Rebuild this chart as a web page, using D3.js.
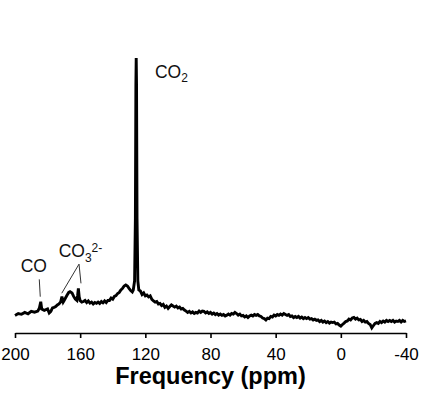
<!DOCTYPE html>
<html>
<head>
<meta charset="utf-8">
<script src="https://cdn.jsdelivr.net/npm/d3@7"></script>
<style>
  body { margin: 0; background: #fff; }
  svg { display: block; font-family: "Liberation Sans", Arial, sans-serif; }
</style>
</head>
<body>
<script>
// 13C NMR spectrum, chemical shift (ppm) and intensity (a.u., CO2 peak = 100)
var shift = [200,198,196,194,192,190,188,186,185,184.2,183.6,182,180,179,178,177,176,175,174,173,172,171.2,170.4,170,169,168,167,166.2,165,164,163,162,161.6,161.1,160.6,160,
  159,158,157,156,155,154,153,152,151,150,149,148,147,146,145,144,143,142,141,140,139,138,137,136,135,134,133,132,131,130,129,128,127.4,126.6,126.1,125.8,125.6,125.4,125.1,124.6,124,
  123,122,121,120,119,118,117,116,115,114,113,112,111,110,109,108,107,106,105,104,103,102,101,100,99,98,97,96,95,94,93,92,91,90,89,88,87,86,85,84,83,82,81,80,
  79,78,77,76,75,74,73,72,71,70,69,68,67,66,65,64,63,62,61,60,59,58,57,56,55,54,53,52,51,50,49,48,47,46,45,44,43,42,41,40,
  39,38,37,36,35,34,33,32,31,30,29,28,27,26,25,24,23,22,21,20,19,18,17,16,15,14,13,12,11,10,9,8,7,6,5,4,3,2,1,0,
  -1,-2,-3,-4,-5,-6,-7,-8,-9,-10,-11,-12,-13,-14,-15,-16,-17,-18,-19,-20,-21,-22,-23,-24,-25,-26,-27,-28,-29,-30,-31,-32,-33,-34,-35,-36,-37,-38,-39,-40];
var intensity = [3.6,4.3,4.0,4.7,4.2,5.1,4.8,5.2,6.4,8.7,6.0,5.5,6.0,4.5,5.1,6.4,6.6,6.9,7.5,7.9,8.6,10.6,8.6,9.0,10.1,11.2,12.2,12.5,12.0,10.7,9.7,9.2,10.9,13.7,10.5,9.1,
  8.6,8.8,9.2,8.4,9.0,8.2,8.6,7.9,8.4,8.1,8.6,8.1,8.8,8.3,9.0,8.4,9.2,9.2,10.1,9.7,10.7,11.0,11.8,12.2,13.1,13.7,14.6,15.0,14.6,13.7,12.9,12.4,13.1,16.5,40.0,90.0,100,90.0,40.0,16.5,13.1,
  12.7,11.4,12.0,10.9,11.2,10.5,10.9,9.6,9.0,8.6,8.8,7.9,8.1,7.3,7.7,6.6,7.1,6.2,6.9,7.5,7.1,6.7,7.1,6.4,6.7,6.0,6.2,5.6,5.2,4.7,5.1,4.5,4.9,4.3,4.7,4.5,5.2,4.7,5.2,5.1,4.5,4.9,4.3,4.7,
  4.1,4.5,3.9,4.3,3.7,4.1,3.6,3.9,3.4,3.7,4.1,3.7,4.3,4.1,4.7,4.3,3.7,4.1,3.4,3.6,3.0,3.4,2.8,3.4,3.7,3.4,3.9,3.6,3.9,3.4,3.2,2.6,2.4,1.9,2.6,2.4,3.2,3.0,3.7,3.4,
  3.9,3.6,4.1,3.7,4.3,3.9,3.6,3.9,3.2,3.4,2.8,3.2,2.8,3.2,2.6,3.0,2.4,2.8,2.4,2.8,2.2,2.4,1.9,2.2,1.7,1.9,1.3,1.7,1.1,1.5,0.9,1.3,0.7,1.1,0.9,1.1,0.4,0.6,0.0,-0.4,
  0.2,0.7,1.3,1.5,2.2,1.9,2.6,2.8,2.2,2.6,1.9,2.1,1.3,1.7,1.1,1.3,0.6,0.2,-1.1,-0.2,0.6,0.9,0.6,1.3,0.9,1.5,1.1,1.7,1.3,1.7,1.3,1.7,1.1,1.5,1.3,1.7,1.1,1.7,1.3,1.5];

var tickValues = [200, 160, 120, 80, 40, 0, -40];

// peak labels: text, ppm, intensity of baseline
var labelText = ["CO", "CO", "CO"];
var labelSub = ["", "3", "2"];
var labelSup = ["", "2-", ""];
var labelPpm = [196.5, 173.2, 114.1];
var labelInt = [19.7, 25.4, 92.6];

// leader lines: [ppm1, int1, ppm2, int2]
var leaders = [[185.1, 17.1, 184.5, 10.6], [160.7, 22.8, 171.3, 11.9], [160.7, 22.8, 159.5, 15.6]];

var width = 429, height = 401;
var svg = d3.select("body").append("svg").attr("width", width).attr("height", height);

var x = d3.scaleLinear().domain([200, -40]).range([15, 406]);
var y = d3.scaleLinear().domain([0, 100]).range([325, 58]);

var points = shift.map(function(d, i) { return [d, intensity[i]]; });

var line = d3.line()
  .x(function(d) { return x(d[0]); })
  .y(function(d) { return y(d[1]); });

svg.append("path")
  .attr("d", line(points))
  .attr("fill", "none")
  .attr("stroke", "#000")
  .attr("stroke-width", 2.9)
  .attr("stroke-linejoin", "miter")
  .attr("stroke-miterlimit", 3);

var axis = svg.append("g")
  .attr("transform", "translate(0,333)")
  .call(d3.axisBottom(x).tickValues(tickValues).tickSize(5).tickSizeOuter(0).tickPadding(10)
    .tickFormat(function(d) { return String(d); }));
axis.select(".domain").attr("stroke-width", 1.6);
axis.selectAll(".tick line").attr("stroke-width", 1.6);
axis.selectAll(".tick text").attr("font-size", 17).attr("font-family", "Liberation Sans, Arial, sans-serif").attr("fill", "#000");

svg.append("text")
  .attr("x", 210.5)
  .attr("y", 384)
  .attr("text-anchor", "middle")
  .attr("font-size", 23.5)
  .attr("font-weight", "bold")
  .text("Frequency (ppm)");

leaders.forEach(function(l) {
  svg.append("line")
    .attr("x1", x(l[0])).attr("y1", y(l[1]))
    .attr("x2", x(l[2])).attr("y2", y(l[3]))
    .attr("stroke", "#333").attr("stroke-width", 1);
});

labelText.forEach(function(t, i) {
  var txt = svg.append("text")
    .attr("x", x(labelPpm[i]))
    .attr("y", y(labelInt[i]))
    .attr("font-size", 17.5)
    .attr("fill", "#111");
  txt.append("tspan").text(t);
  if (labelSub[i]) txt.append("tspan").attr("dy", 4.5).attr("font-size", 12).text(labelSub[i]);
  if (labelSup[i]) txt.append("tspan").attr("dy", -10).attr("font-size", 12).text(labelSup[i]);
});
</script>
</body>
</html>
